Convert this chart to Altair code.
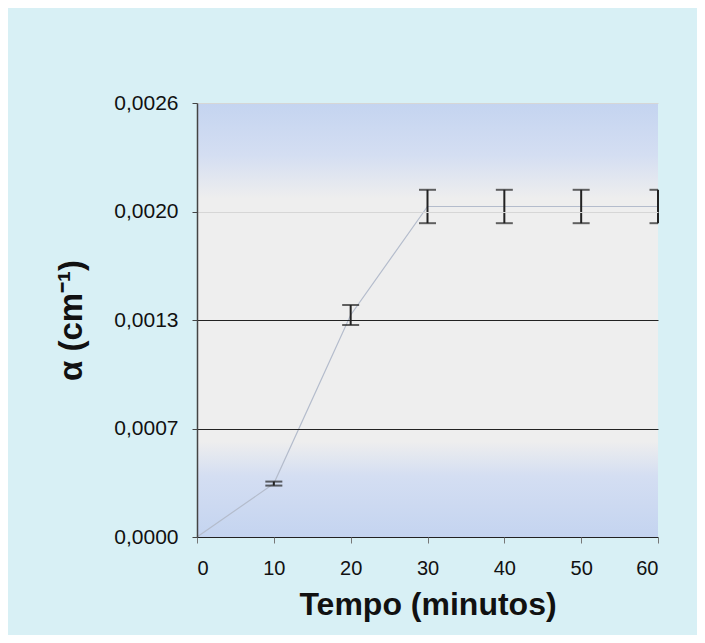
import altair as alt
import pandas as pd

tempo = [0, 10, 20, 30, 40, 50, 60]
alpha = [0.0, 0.00032, 0.00133, 0.00198, 0.00198, 0.00198, 0.00198]
erro = [0.0, 0.000012, 0.00006, 0.0001, 0.0001, 0.0001, 0.0001]

y_ticks = [0.0, 0.00065, 0.0013, 0.00195, 0.0026]
y_labels = ["0,0000", "0,0007", "0,0013", "0,0020", "0,0026"]
x_ticks = [0, 10, 20, 30, 40, 50, 60]

df = pd.DataFrame({"t": tempo, "a": alpha, "e": erro})
df["lo"] = df["a"] - df["e"]
df["hi"] = df["a"] + df["e"]
eb = df[df["e"] > 0]

W, H = 461, 434
FONT = "Liberation Sans"

conds = []
for v, l in zip(y_ticks, y_labels):
    conds.append(f"abs(datum.value - {v}) < 0.00001 ? '{l}'")
label_expr = " : ".join(conds) + " : ''"

xs = alt.Scale(domain=[0, 60], nice=False)
ys = alt.Scale(domain=[0, 0.0026], nice=False, zero=True)

gradient = {
    "gradient": "linear", "x1": 0, "y1": 0, "x2": 0, "y2": 1,
    "stops": [
        {"offset": 0.0, "color": "#c4d4f0"},
        {"offset": 0.12, "color": "#d4def2"},
        {"offset": 0.22, "color": "#eeeeee"},
        {"offset": 0.78, "color": "#eeeeee"},
        {"offset": 0.86, "color": "#d4def2"},
        {"offset": 1.0, "color": "#c4d4f0"},
    ],
}

bg = alt.Chart(pd.DataFrame({"k": [0]})).mark_rect(fill=gradient, strokeWidth=0).encode(
    x=alt.value(0), x2=alt.value(W), y=alt.value(0), y2=alt.value(H)
)

base = alt.Chart(df)

line = base.mark_line(color="#b4bccc", strokeWidth=1.2).encode(
    x=alt.X("t:Q", scale=xs,
            axis=alt.Axis(values=x_ticks, title="Tempo (minutos)", grid=False, domain=False,
                          tickColor="#777777", tickSize=6, labelPadding=15,
                          labelFontSize=20, labelFont=FONT, labelColor="#111111",
                          titleFont=FONT, titleFontSize=32, titleFontWeight="bold",
                          titleColor="#111111", titlePadding=11, zindex=1)),
    y=alt.Y("a:Q", scale=ys,
            axis=alt.Axis(values=y_ticks, labelExpr=label_expr, title="α (cm⁻¹)",
                          grid=True, gridColor={"condition": {"test": "datum.value > 0.0015", "value": "#d6d6d6"}, "value": "#222222"},
                          gridWidth=1.2, domainColor="#444444", domainWidth=1.5,
                          tickColor="#444444", tickSize=5, labelPadding=14,
                          labelFontSize=21, labelFont=FONT, labelColor="#111111",
                          titleFont=FONT, titleFontSize=33, titleFontWeight="bold",
                          titleColor="#111111", titlePadding=25, zindex=1)),
)

bars = alt.Chart(eb).mark_rule(color="#222222", strokeWidth=2).encode(
    x=alt.X("t:Q", scale=xs), y=alt.Y("lo:Q", scale=ys), y2="hi:Q"
)
caps_lo = alt.Chart(eb).mark_tick(color="#222222", orient="horizontal", size=17, thickness=2, clip=True).encode(
    x=alt.X("t:Q", scale=xs), y=alt.Y("lo:Q", scale=ys)
)
caps_hi = alt.Chart(eb).mark_tick(color="#222222", orient="horizontal", size=17, thickness=2, clip=True).encode(
    x=alt.X("t:Q", scale=xs), y=alt.Y("hi:Q", scale=ys)
)

chart = alt.layer(bg, line, bars, caps_lo, caps_hi).properties(
    width=W, height=H,
    autosize=alt.AutoSizeParams(type="none"),
    padding={"left": 189, "top": 95, "right": 39, "bottom": 98},
    background="#d8f0f5",
).configure_view(stroke=None)

chart.save("out.html", embed_options={"renderer": "svg", "actions": False})
